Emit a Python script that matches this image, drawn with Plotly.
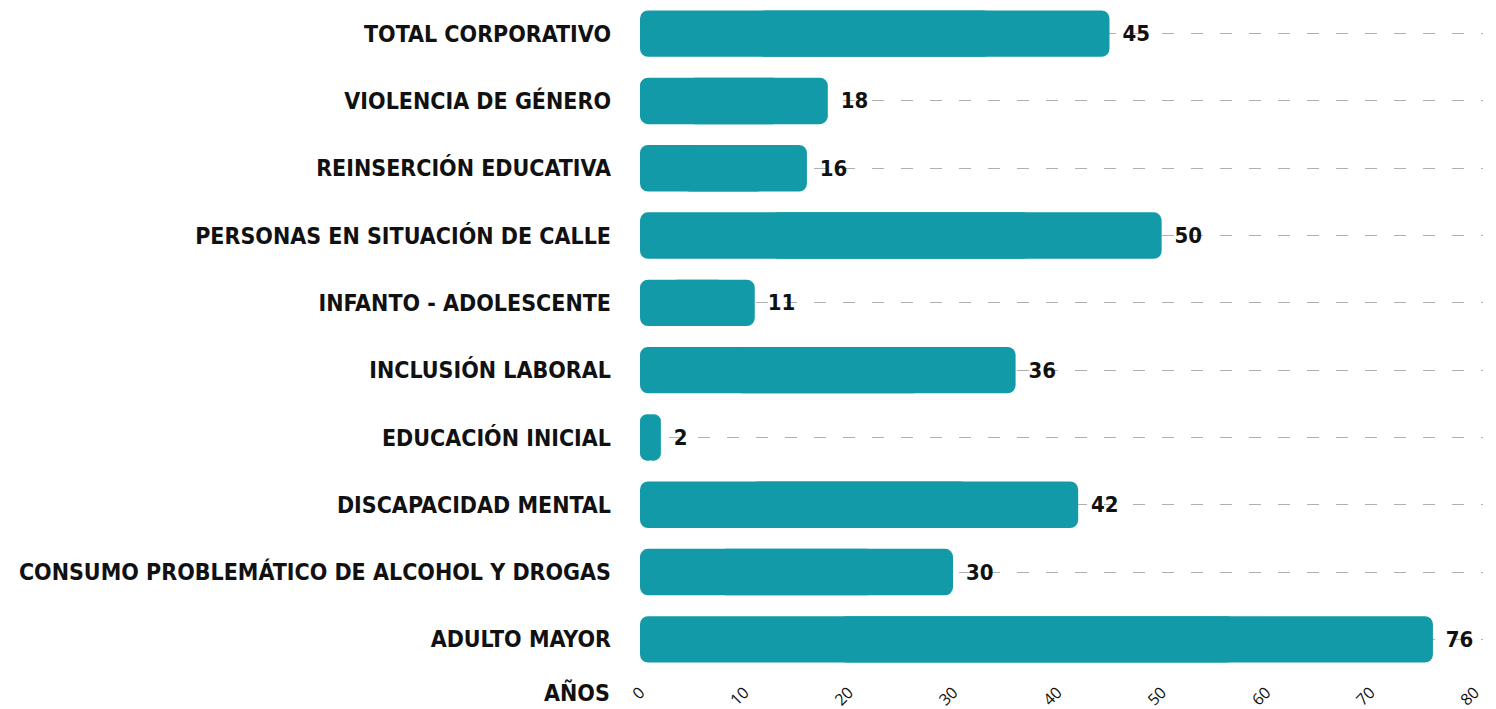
import plotly.graph_objects as go

categories = [
    "TOTAL CORPORATIVO",
    "VIOLENCIA DE GÉNERO",
    "REINSERCIÓN EDUCATIVA",
    "PERSONAS EN SITUACIÓN DE CALLE",
    "INFANTO - ADOLESCENTE",
    "INCLUSIÓN LABORAL",
    "EDUCACIÓN INICIAL",
    "DISCAPACIDAD MENTAL",
    "CONSUMO PROBLEMÁTICO DE ALCOHOL Y DROGAS",
    "ADULTO MAYOR",
]
values = [45, 18, 16, 50, 11, 36, 2, 42, 30, 76]
x_ticks = [0, 10, 20, 30, 40, 50, 60, 70, 80]

FONT = "DejaVu Sans Condensed"
BAR_COLOR = "#139aa8"

# each bar is drawn as two overlapping pieces so both ends get rounded corners
left_end = [v * 0.75 for v in values]
right_start = [v * 0.25 for v in values]

fig = go.Figure()
fig.add_trace(
    go.Bar(
        x=[-e for e in left_end],
        base=left_end,
        y=categories,
        orientation="h",
        marker=dict(color=BAR_COLOR, cornerradius=8, line=dict(width=0)),
        hoverinfo="skip",
    )
)
fig.add_trace(
    go.Bar(
        x=[v - s for v, s in zip(values, right_start)],
        base=right_start,
        y=categories,
        orientation="h",
        marker=dict(color=BAR_COLOR, cornerradius=8, line=dict(width=0)),
        text=[str(v) for v in values],
        texttemplate="\u2002%{text}",
        textposition="outside",
        textfont=dict(family=FONT, size=22, color="#111111", weight="bold"),
        cliponaxis=False,
        hovertemplate="%{y}: %{text}<extra></extra>",
    )
)

fig.update_layout(
    width=1496,
    height=709,
    margin=dict(l=640, r=13, t=0, b=36),
    paper_bgcolor="white",
    plot_bgcolor="white",
    barmode="overlay",
    bargap=0.31,
    showlegend=False,
    xaxis=dict(
        range=[0, 80.8],
        tickvals=x_ticks,
        ticktext=[str(t) for t in x_ticks],
        tickangle=-45,
        tickfont=dict(family="Open Sans", size=16, color="#111111"),
        ticklabelstandoff=6,
        showgrid=False,
        zeroline=False,
        showline=False,
        ticks="",
        automargin=False,
    ),
    yaxis=dict(
        autorange="reversed",
        showgrid=True,
        gridcolor="#b0b0b0",
        gridwidth=1,
        griddash="12px,17px",
        tickfont=dict(family=FONT, size=23, color="#111111", weight="bold"),
        ticks="",
        ticklabelstandoff=28,
        showline=False,
        zeroline=False,
        automargin=False,
    ),
)
fig.add_annotation(
    text="AÑOS",
    xref="paper",
    yref="paper",
    x=-28 / 843,
    xanchor="right",
    y=-20 / 673,
    yanchor="middle",
    showarrow=False,
    font=dict(family=FONT, size=23, color="#111111", weight="bold"),
)

fig.write_html(
    "out.html",
    config={"displayModeBar": False},
    post_script="document.body.style.margin='0';",
)
